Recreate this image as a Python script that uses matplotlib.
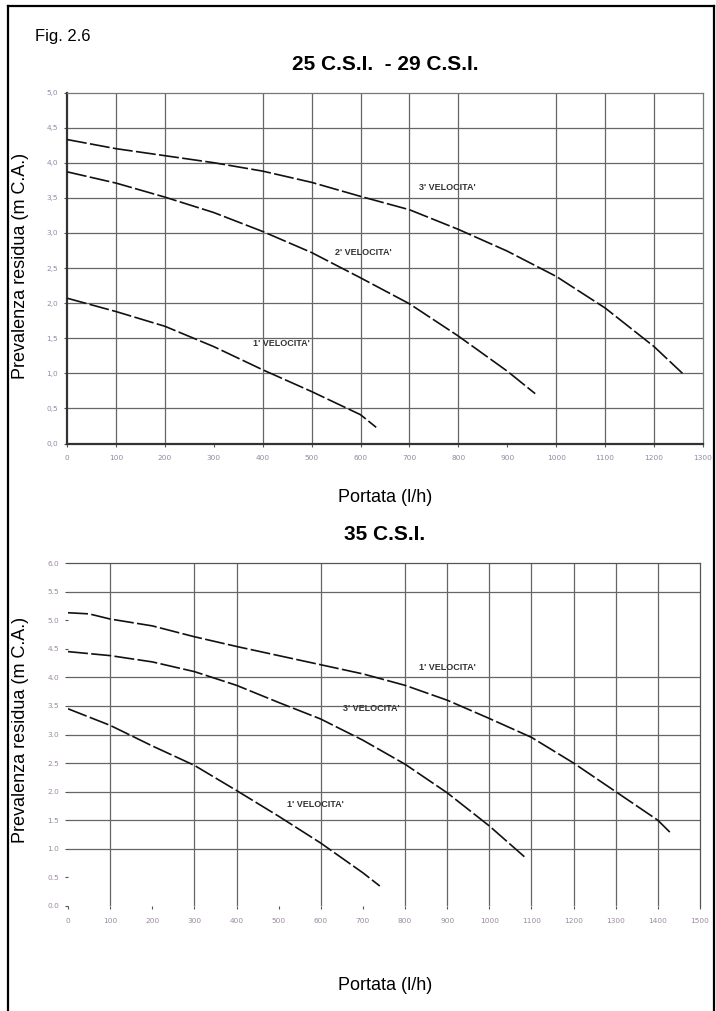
import matplotlib
matplotlib.use("Agg")
import matplotlib.pyplot as plt
from matplotlib.lines import Line2D

# --- data ---
# 25 C.S.I. - 29 C.S.I.
top_x3 = [0, 100, 200, 300, 400, 500, 600, 700, 800, 900, 1000, 1100, 1200, 1258]
top_y3 = [4.33, 4.2, 4.1, 4.0, 3.88, 3.72, 3.52, 3.33, 3.05, 2.74, 2.38, 1.93, 1.38, 1.0]
top_x2 = [0, 100, 200, 300, 400, 500, 600, 700, 800, 900, 957]
top_y2 = [3.87, 3.71, 3.51, 3.29, 3.02, 2.72, 2.36, 1.99, 1.53, 1.03, 0.71]
top_x1 = [0, 100, 200, 300, 400, 500, 600, 632]
top_y1 = [2.07, 1.88, 1.67, 1.38, 1.05, 0.74, 0.41, 0.23]
top_labels = ["3' VELOCITA'", "2' VELOCITA'", "1' VELOCITA'"]
top_label_x = [720, 548, 381]
top_label_y = [3.64, 2.72, 1.43]

# 35 C.S.I.
bot_xa = [0, 50, 100, 200, 300, 400, 500, 600, 700, 800, 900, 1000, 1100, 1200, 1300, 1400, 1430]
bot_ya = [5.13, 5.11, 5.02, 4.9, 4.71, 4.54, 4.38, 4.22, 4.06, 3.86, 3.6, 3.28, 2.95, 2.5, 2.0, 1.5, 1.28]
bot_xb = [0, 100, 200, 300, 400, 500, 600, 700, 800, 900, 1000, 1085]
bot_yb = [4.45, 4.38, 4.27, 4.1, 3.86, 3.56, 3.27, 2.9, 2.48, 1.98, 1.4, 0.85]
bot_xc = [0, 100, 200, 300, 400, 500, 600, 700, 740]
bot_yc = [3.45, 3.16, 2.8, 2.46, 2.02, 1.57, 1.1, 0.58, 0.35]
bot_labels = ["1' VELOCITA'", "3' VELOCITA'", "1' VELOCITA'"]
bot_label_x = [834, 653, 520]
bot_label_y = [4.17, 3.45, 1.77]

top_xticks = list(range(0, 1301, 100))
top_yticks = [i * 0.5 for i in range(11)]
top_ytick_labels = ["0,0", "0,5", "1,0", "1,5", "2,0", "2,5", "3,0", "3,5", "4,0", "4,5", "5,0"]
bot_xticks = list(range(0, 1501, 100))
bot_yticks = [i * 0.5 for i in range(13)]
bot_ytick_labels = ["0.0", "0.5", "1.0", "1.5", "2.0", "2.5", "3.0", "3.5", "4.0", "4.5", "5.0", "5.5", "6.0"]

# grid lines that are actually drawn in the scan (some are missing)
top_vgrid = [100, 200, 400, 500, 600, 700, 800, 1000, 1100, 1200]
top_hgrid = [0.5, 1.0, 1.5, 2.0, 2.5, 3.0, 3.5, 4.0, 4.5]
bot_vgrid = [100, 300, 400, 600, 800, 900, 1000, 1100, 1200, 1300, 1400]
bot_hgrid = [1.0, 1.5, 2.0, 2.5, 3.0, 3.5, 4.0, 5.5]

narrow = ["Liberation Sans Narrow", "Liberation Sans", "DejaVu Sans"]
plain = ["Liberation Sans", "DejaVu Sans"]
dash = (0, (12, 2))
grid_c = "#666666"
tick_c = "#8c8ca6"

fig = plt.figure(figsize=(7.16, 10.11), dpi=100)
fig.patch.set_facecolor("white")

# outer frame (no bottom edge)
for xs, ys in [([8 / 716, 8 / 716], [0, 1 - 6 / 1011]),
               ([8 / 716, 714 / 716], [1 - 6 / 1011, 1 - 6 / 1011]),
               ([714 / 716, 714 / 716], [1 - 6 / 1011, 0])]:
    fig.add_artist(Line2D(xs, ys, transform=fig.transFigure, color="black", lw=1.6))

fig.text(35 / 716, 1 - 37 / 1011, "Fig. 2.6", family=narrow, fontsize=12, va="center", ha="left")


def style_axes(ax, xticks, yticks, ylabels, vgrid, hgrid):
    ax.set_xticks(xticks)
    ax.set_xticklabels([str(v) for v in xticks])
    ax.set_yticks(yticks)
    ax.set_yticklabels(ylabels)
    ax.tick_params(axis="both", labelsize=5.3, labelcolor=tick_c, color="#555555",
                   length=2.5, width=0.8, direction="out", pad=4)
    ax.tick_params(axis="x", pad=6)
    for v in vgrid:
        ax.axvline(v, color=grid_c, lw=0.9, zorder=1)
    for h in hgrid:
        ax.axhline(h, color=grid_c, lw=0.9, zorder=1)


# ---------- top chart ----------
ax1 = fig.add_axes([67 / 716, 1 - 443.5 / 1011, 636 / 716, 351 / 1011])
ax1.set_xlim(0, 1300)
ax1.set_ylim(0, 5.0)
style_axes(ax1, top_xticks, top_yticks, top_ytick_labels, top_vgrid, top_hgrid)
for s in ["top", "right"]:
    ax1.spines[s].set_color("#777777")
    ax1.spines[s].set_linewidth(0.9)
for s in ["left", "bottom"]:
    ax1.spines[s].set_color("#333333")
    ax1.spines[s].set_linewidth(1.6)

for xs, ys in [(top_x3, top_y3), (top_x2, top_y2), (top_x1, top_y1)]:
    ax1.plot(xs, ys, color="#111111", lw=1.2, linestyle=dash, zorder=3)
for lab, lx, ly in zip(top_labels, top_label_x, top_label_y):
    ax1.text(lx, ly, lab, fontsize=6.5, fontweight="bold", color="#333333",
             family=narrow, va="center", ha="left", zorder=4)

fig.text(385 / 716, 1 - 64 / 1011, "25 C.S.I.  - 29 C.S.I.", family=narrow,
         fontsize=15, fontweight="bold", ha="center", va="center")
fig.text(21 / 716, 1 - 266 / 1011, "Prevalenza residua (m C.A.)", family=plain,
         fontsize=13, rotation=90, ha="center", va="center")
fig.text(385 / 716, 1 - 497 / 1011, "Portata (l/h)", family=narrow,
         fontsize=13, ha="center", va="center")

# ---------- bottom chart ----------
ax2 = fig.add_axes([68 / 716, 1 - 906 / 1011, 632 / 716, 343 / 1011])
ax2.set_xlim(0, 1500)
ax2.set_ylim(0, 6.0)
style_axes(ax2, bot_xticks, bot_yticks, bot_ytick_labels, bot_vgrid, bot_hgrid)
ax2.tick_params(axis="both", labelcolor="#9a8aa0")
for s in ["left", "bottom"]:
    ax2.spines[s].set_visible(False)
for s in ["top", "right"]:
    ax2.spines[s].set_color("#555555")
    ax2.spines[s].set_linewidth(0.9)

for xs, ys in [(bot_xa, bot_ya), (bot_xb, bot_yb), (bot_xc, bot_yc)]:
    ax2.plot(xs, ys, color="#111111", lw=1.2, linestyle=dash, zorder=3)
for lab, lx, ly in zip(bot_labels, bot_label_x, bot_label_y):
    ax2.text(lx, ly, lab, fontsize=6.5, fontweight="bold", color="#333333",
             family=narrow, va="center", ha="left", zorder=4)

fig.text(385 / 716, 1 - 535 / 1011, "35 C.S.I.", family=narrow,
         fontsize=15, fontweight="bold", ha="center", va="center")
fig.text(21 / 716, 1 - 730 / 1011, "Prevalenza residua (m C.A.)", family=plain,
         fontsize=13, rotation=90, ha="center", va="center")
fig.text(385 / 716, 1 - 985 / 1011, "Portata (l/h)", family=narrow,
         fontsize=13, ha="center", va="center")

fig.savefig("out.png", dpi=100)
